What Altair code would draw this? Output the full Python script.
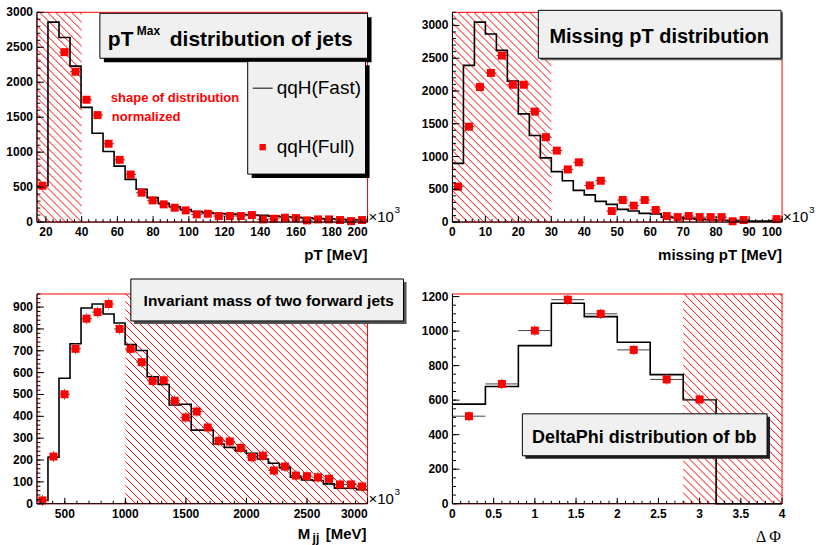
import altair as alt
import numpy as np
import pandas as pd

FONT = "Liberation Sans"
SERIF = "Liberation Serif"
H = 210
ERRC = "#444444"

# ---------------- Panel 1: pT^Max of jets ----------------
pt_range = [15.0, 200.0]
pt_ymax = 3000
pt_fast = [520, 2860, 2640, 2230, 1640, 1270, 1010, 800, 610, 470,
           350, 270, 220, 180, 150, 135, 122, 115, 108, 100,
           95, 85, 75, 68, 60, 52, 46, 40, 35, 30]
pt_full = [520, None, 2430, 2150, 1750, 1530, 1120, 890, 680, 420,
           310, 253, 205, 167, 110, 119, 86, 86, 86, 100,
           38, 48, 62, 57, 24, 38, 38, 29, 14, 29]
pt_xticks = [20, 40, 60, 80, 100, 120, 140, 160, 180, 200]
pt_yticks = [0, 500, 1000, 1500, 2000, 2500, 3000]
pt_cut = [15, 40]

# ---------------- Panel 2: missing pT ----------------
mpt_range = [0.0, 100.0]
mpt_ymax = 3200
mpt_fast = [895, 2390, 3050, 2870, 2620, 2150, 1650, 1320, 980, 770,
            630, 483, 415, 315, 270, 193, 168, 132, 125, 76,
            66, 56, 45, 35, 28, 22, 18, 15, 15, 20]
mpt_full = [540, 1455, 2060, 2275, 2540, 2095, 2095, 1685, 1295, 1090,
            803, 912, 559, 630, 168, 336, 250, 336, 185, 92,
            76, 92, 76, 76, 76, 12, 31, None, None, 45]
mpt_xticks = [0, 10, 20, 30, 40, 50, 60, 70, 80, 90, 100]
mpt_yticks = [0, 500, 1000, 1500, 2000, 2500, 3000]
mpt_cut = [0, 30]

# ---------------- Panel 3: invariant mass Mjj ----------------
mjj_range = [270.0, 3000.0]
mjj_ymax = 960
mjj_fast = [15, 213, 574, 732, 896, 914, 868, 827, 729, 701,
            581, 546, 452, 455, 337, 337, 273, 258, 243, 231,
            205, 185, 164, 121, 109, 106, 91, 71, 71, 64]
mjj_full = [15, 216, 501, 709, 847, 877, 914, 800, 709, 648,
            562, 565, 471, 395, 422, 349, 288, 285, 255, 213,
            220, 152, 170, 129, 126, 121, 114, 88, 88, 79]
mjj_xticks = [500, 1000, 1500, 2000, 2500, 3000]
mjj_yticks = [0, 100, 200, 300, 400, 500, 600, 700, 800, 900]
mjj_cut = [1000, 3000]

# ---------------- Panel 4: DeltaPhi of bb ----------------
dphi_range = [0.0, 4.0]
dphi_ymax = 1215
dphi_fast = [577, 679, 916, 1161, 1084, 935, 748, 602, 0, 0]
dphi_full = [507, 694, 1003, 1182, 1100, 891, 720, 604, None, None]
dphi_xticks = [0, 0.5, 1, 1.5, 2, 2.5, 3, 3.5, 4]
dphi_yticks = [0, 200, 400, 600, 800, 1000, 1200]
dphi_cut = [2.8, 4.0]

ONE = pd.DataFrame({"k": [0]})


def txt(s, x, y, size, weight="bold", color="black", align="left",
        baseline="alphabetic", font=FONT):
    return alt.Chart(ONE).mark_text(
        text=s, fontSize=size, fontWeight=weight, color=color, align=align,
        baseline=baseline, font=font
    ).encode(x=alt.value(x), y=alt.value(y))


def box(xa, ya, xb, yb, sh, shc, fill="#f0f0f0"):
    shadow = alt.Chart(ONE).mark_rect(color=shc).encode(
        x=alt.value(xa + sh), x2=alt.value(xb + sh),
        y=alt.value(ya + sh), y2=alt.value(yb + sh))
    body = alt.Chart(ONE).mark_rect(fill=fill, stroke="black", strokeWidth=1).encode(
        x=alt.value(xa), x2=alt.value(xb), y=alt.value(ya), y2=alt.value(yb))
    return [shadow, body]


def fmt(v):
    return "%g" % v


def panel(rng, ymax, fast, full, err, xticks, yticks, xminor, yminor, cut, W,
          right_thr, extras, phase=2.0):
    x0, x1 = rng
    n = len(fast)
    edges = np.linspace(x0, x1, n + 1)
    centers = (edges[:-1] + edges[1:]) / 2
    hw = (x1 - x0) / n / 2
    xsc = alt.Scale(domain=[x0, x1], nice=False, zero=False)
    ysc = alt.Scale(domain=[0, ymax], nice=False, zero=False)

    def X(f):
        return alt.X(f, type="quantitative", scale=xsc, axis=None, title=None)

    def Y(f):
        return alt.Y(f, type="quantitative", scale=ysc, axis=None, title=None)

    layers = []
    # red frame
    layers.append(alt.Chart(ONE).mark_rect(fill="white", fillOpacity=0, stroke="#ff0000",
                                           strokeWidth=1).encode(
        x=alt.value(0), x2=alt.value(W), y=alt.value(0), y2=alt.value(H)))

    # hatched cut region (decoration, computed in pixel space -> data units)
    px0 = (cut[0] - x0) / (x1 - x0) * W
    px1 = (cut[1] - x0) / (x1 - x0) * W
    segs = []
    for b in np.arange(-px1 + phase, H - px0, 8.0):
        xs_ = max(px0, -b)
        xe_ = min(px1, H - b)
        if xe_ > xs_ + 0.5:
            segs.append((xs_, xs_ + b, xe_, xe_ + b))
    hd = pd.DataFrame(segs, columns=["a", "b", "c", "d"])
    hd["hx"] = x0 + hd["a"] / W * (x1 - x0)
    hd["hy"] = ymax * (1 - hd["b"] / H)
    hd["hx2"] = x0 + hd["c"] / W * (x1 - x0)
    hd["hy2"] = ymax * (1 - hd["d"] / H)
    hd = hd[["hx", "hy", "hx2", "hy2"]]
    layers.append(alt.Chart(hd).mark_rule(strokeWidth=1, opacity=1).encode(
        x=X("hx"), y=Y("hy"), x2="hx2", y2="hy2", color=alt.value("#ff0000")))

    # histogram (Fast)
    hist = pd.DataFrame({"x": edges, "y": list(fast) + [fast[-1]]})
    layers.append(alt.Chart(hist).mark_line(interpolate="step-after", color="black",
                                            strokeWidth=1.6).encode(
        x=X("x"), y=Y("y")))

    # Full points with error bars
    pts = pd.DataFrame({"x": centers, "lo": centers - hw, "hi": centers + hw,
                        "y": pd.to_numeric(pd.Series(full), errors="coerce")}).dropna()
    layers.append(alt.Chart(pts).mark_rule(color=ERRC, strokeWidth=1).encode(
        x=X("lo"), x2="hi", y=Y("y")))
    if err > 0:
        pts["ylo"] = pts["y"] - err
        pts["yhi"] = pts["y"] + err
        layers.append(alt.Chart(pts).mark_rule(color="#777777", strokeWidth=1).encode(
            x=X("x"), y=Y("ylo"), y2="yhi"))
    layers.append(alt.Chart(pts).mark_square(size=64, color="#ff0000", opacity=1).encode(
        x=X("x"), y=Y("y")))

    # axis lines
    layers.append(alt.Chart(ONE).mark_rule(color="black", strokeWidth=1).encode(
        x=alt.value(0), x2=alt.value(W), y=alt.value(H)))
    layers.append(alt.Chart(ONE).mark_rule(color="black", strokeWidth=1).encode(
        x=alt.value(0), y=alt.value(0), y2=alt.value(H)))

    # inward ticks
    xmaj = pd.DataFrame({"v": xticks, "t": [fmt(v) for v in xticks]})
    xmin = pd.DataFrame({"v": [v for v in np.arange(xticks[0] - 20 * xminor, x1 + 1e-9, xminor)
                               if x0 <= v <= x1]})
    ymaj = pd.DataFrame({"v": yticks, "t": [fmt(v) for v in yticks]})
    ymin = pd.DataFrame({"v": [v for v in np.arange(0, ymax + 1e-9, yminor)]})
    layers.append(alt.Chart(xmaj).mark_rule(color="black").encode(
        x=X("v"), y=alt.value(H), y2=alt.value(H - 6)))
    layers.append(alt.Chart(xmin).mark_rule(color="black").encode(
        x=X("v"), y=alt.value(H), y2=alt.value(H - 3)))
    layers.append(alt.Chart(ymaj).mark_rule(color="black").encode(
        y=Y("v"), x=alt.value(0), x2=alt.value(7)))
    layers.append(alt.Chart(ymin).mark_rule(color="black").encode(
        y=Y("v"), x=alt.value(0), x2=alt.value(3.5)))

    # tick labels
    xc = xmaj[xmaj["v"] < right_thr]
    xr = xmaj[xmaj["v"] >= right_thr]
    layers.append(alt.Chart(xc).mark_text(font=FONT, fontSize=12, fontWeight="bold",
                                          color="black", align="center", baseline="top").encode(
        x=X("v"), y=alt.value(H + 5), text="t:N"))
    if len(xr):
        layers.append(alt.Chart(xr).mark_text(font=FONT, fontSize=12, fontWeight="bold",
                                              color="black", align="right", baseline="top").encode(
            x=X("v"), y=alt.value(H + 5), text="t:N"))
    layers.append(alt.Chart(ymaj).mark_text(font=FONT, fontSize=12, fontWeight="bold",
                                            color="black", align="right", baseline="middle").encode(
        y=Y("v"), x=alt.value(-4), text="t:N"))

    layers.extend(extras)
    return alt.layer(*layers).properties(width=W, height=H)


def times1e3(W):
    return [txt("\u00d710", W + 1, 210, 15, weight="normal"),
            txt("3", W + 27, 201, 10, weight="normal")]


# ---- extras for panel 1 ----
ex1 = []
ex1 += box(63, 1, 331, 46, 4, "black")
ex1 += [txt("pT", 71, 34, 21), txt("Max", 100, 23, 12),
        txt("distribution of jets", 133, 34, 21)]
ex1 += box(211, 49, 329, 162, 4, "black")
ex1 += [alt.Chart(ONE).mark_rule(color="#555555", strokeWidth=1.5).encode(
            x=alt.value(216), x2=alt.value(236), y=alt.value(76)),
        txt("qqH(Fast)", 240, 76, 19, weight="normal", baseline="middle"),
        alt.Chart(ONE).mark_square(size=40, color="#ff0000", opacity=1).encode(
            x=alt.value(226), y=alt.value(135)),
        txt("qqH(Full)", 240, 135, 19, weight="normal", baseline="middle"),
        txt("shape of distribution", 74, 86, 13, color="#ff0000", baseline="middle"),
        txt("normalized", 75, 105, 13, color="#ff0000", baseline="middle"),
        txt("pT [MeV]", 331, 248, 15, align="right")]
ex1 += times1e3(331)
# anchor for the page's top-left corner
ex1 += [alt.Chart(ONE).mark_rect(opacity=0).encode(
    x=alt.value(-36), x2=alt.value(-35), y=alt.value(-11), y2=alt.value(-10))]

# ---- extras for panel 2 ----
ex2 = []
ex2 += box(86, -2, 329, 46, 2, "#666666")
ex2 += [txt("Missing pT distribution", 207, 31, 20, align="center"),
        txt("missing pT [MeV]", 330, 248, 15, align="right")]
ex2 += times1e3(330)

# ---- extras for panel 3 ----
ex3 = []
ex3 += box(94, -15, 367, 27, 3, "#555555")
ex3 += [txt("Invariant mass of two forward jets", 232, 12, 15.5, align="center"),
        txt("M", 261, 245, 15), txt("jj", 276, 248, 12),
        txt("[MeV]", 330, 245, 15, align="right")]
ex3 += times1e3(331)

# ---- extras for panel 4 ----
ex4 = []
ex4 += box(70, 120, 315, 162, 3, "#222222")
ex4 += [txt("DeltaPhi distribution of bb", 192, 149, 18, align="center"),
        txt("\u0394 \u03a6", 329, 248, 16, weight="normal", align="right", font=SERIF)]

p1 = panel(pt_range, pt_ymax, pt_fast, pt_full, 0, pt_xticks, pt_yticks, 4, 100,
           pt_cut, 331, 199, ex1)
p2 = panel(mpt_range, mpt_ymax, mpt_fast, mpt_full, 0, mpt_xticks, mpt_yticks, 2, 100,
           mpt_cut, 330, 99, ex2, phase=5.6)
p3 = panel(mjj_range, mjj_ymax, mjj_fast, mjj_full, 25, mjj_xticks, mjj_yticks, 100, 20,
           mjj_cut, 331, 2999, ex3)
p4 = panel(dphi_range, dphi_ymax, dphi_fast, dphi_full, 30, dphi_xticks, dphi_yticks, 0.1, 50,
           dphi_cut, 330, 999, ex4)

chart = alt.concat(p1, p2, p3, p4, columns=2, spacing={"row": 72, "column": 85},
                   bounds="flush").properties(
    padding=0, background="white"
).configure(font=FONT).configure_view(stroke="transparent")

chart.save("out.html", embed_options={"renderer": "svg", "actions": False})
